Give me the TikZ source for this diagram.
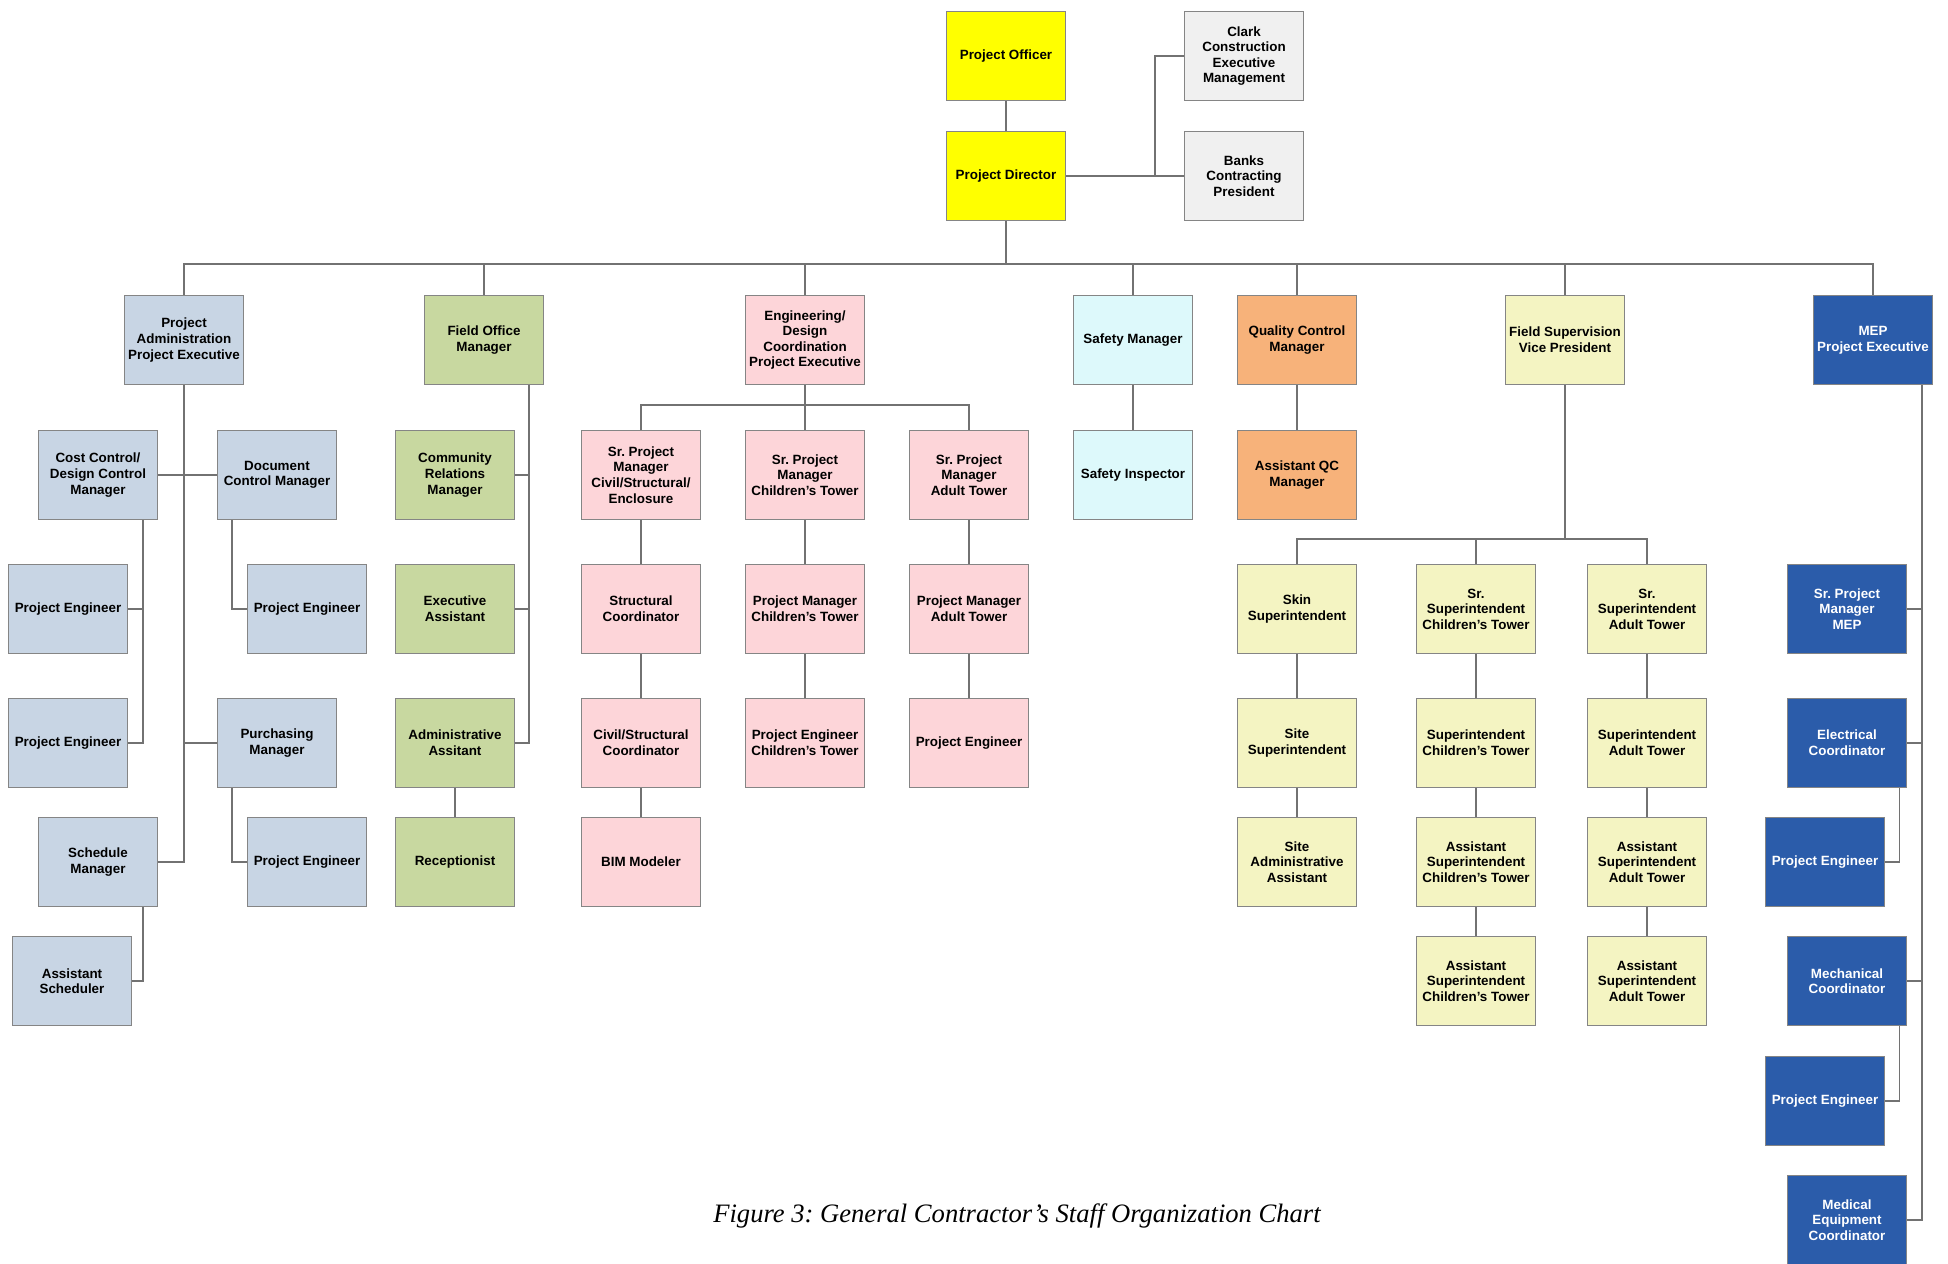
\documentclass[tikz,border=0pt]{standalone}
\usepackage{fontspec}
\setmainfont{Liberation Sans}
\newfontfamily\capfont{Liberation Serif}
\usepackage{tikz}
\frenchspacing

\definecolor{topyel}{HTML}{FFFF00}
\definecolor{extgrey}{HTML}{F0F0F0}
\definecolor{admblue}{HTML}{C8D5E4}
\definecolor{fldgreen}{HTML}{C8D8A0}
\definecolor{engpink}{HTML}{FDD5D9}
\definecolor{safecyan}{HTML}{DDF9FB}
\definecolor{qcorange}{HTML}{F7B27A}
\definecolor{supyel}{HTML}{F4F4C2}
\definecolor{mepblue}{HTML}{2B5CAA}
\definecolor{boxline}{HTML}{858585}
\definecolor{linkgrey}{HTML}{727272}

\begin{document}
\begin{tikzpicture}[x=0.5pt,y=-0.5pt,
  box/.style={draw=boxline,line width=0.7pt,minimum width=59.5pt,minimum height=44.75pt,
    inner sep=1pt,align=center,font=\fontsize{6.7}{7.8}\selectfont\bfseries},
  top/.style={box,fill=topyel},
  ext/.style={box,fill=extgrey},
  adm/.style={box,fill=admblue},
  fld/.style={box,fill=fldgreen},
  eng/.style={box,fill=engpink},
  safe/.style={box,fill=safecyan},
  qual/.style={box,fill=qcorange},
  sup/.style={box,fill=supyel},
  mep/.style={box,fill=mepblue,text=white},
  link/.style={draw=linkgrey,line width=0.9pt}]
  \useasboundingbox[fill=white] (0,0) rectangle (1948,1263);

  \node[top] (off) at (1006,56) {Project Officer};
  \node[top] (dir) at (1006,176) {Project Director};
  \node[ext] (clark) at (1244,56) {Clark\\Construction\\Executive\\Management};
  \node[ext] (banks) at (1244,176) {Banks\\Contracting\\President};

  \node[adm] (admin) at (184,340) {Project\\Administration\\Project Executive};
  \node[fld] (fom) at (484,340) {Field Office\\Manager};
  \node[eng] (engpe) at (805,340) {Engineering/\\Design\\Coordination\\Project Executive};
  \node[safe] (safem) at (1133,340) {Safety Manager};
  \node[qual] (qcm) at (1297,340) {Quality Control\\Manager};
  \node[sup] (fsvp) at (1565,340) {Field Supervision\\Vice President};
  \node[mep] (mepe) at (1873,340) {MEP\\Project Executive};

  \node[adm] (cost) at (98,475) {Cost Control/\\Design Control\\Manager};
  \node[adm] (doc) at (277,475) {Document\\Control Manager};
  \node[adm] (pea) at (68,609) {Project Engineer};
  \node[adm] (peb) at (307,609) {Project Engineer};
  \node[adm] (pec) at (68,743) {Project Engineer};
  \node[adm] (purch) at (277,743) {Purchasing\\Manager};
  \node[adm] (sched) at (98,862) {Schedule\\Manager};
  \node[adm] (ped) at (307,862) {Project Engineer};
  \node[adm] (asched) at (72,981) {Assistant\\Scheduler};

  \node[fld] (crm) at (455,475) {Community\\Relations\\Manager};
  \node[fld] (exa) at (455,609) {Executive\\Assistant};
  \node[fld] (adma) at (455,743) {Administrative\\Assitant};
  \node[fld] (recp) at (455,862) {Receptionist};

  \node[eng] (srcv) at (641,475) {Sr. Project\\Manager\\Civil/Structural/\\Enclosure};
  \node[eng] (srch) at (805,475) {Sr. Project\\Manager\\Children's Tower};
  \node[eng] (srad) at (969,475) {Sr. Project\\Manager\\Adult Tower};
  \node[eng] (stc) at (641,609) {Structural\\Coordinator};
  \node[eng] (pmch) at (805,609) {Project Manager\\Children's Tower};
  \node[eng] (pmad) at (969,609) {Project Manager\\Adult Tower};
  \node[eng] (csc) at (641,743) {Civil/Structural\\Coordinator};
  \node[eng] (pech) at (805,743) {Project Engineer\\Children's Tower};
  \node[eng] (pead) at (969,743) {Project Engineer};
  \node[eng] (bim) at (641,862) {BIM Modeler};

  \node[safe] (sinsp) at (1133,475) {Safety Inspector};
  \node[qual] (aqc) at (1297,475) {Assistant QC\\Manager};

  \node[sup] (skin) at (1297,609) {Skin\\Superintendent};
  \node[sup] (site) at (1297,743) {Site\\Superintendent};
  \node[sup] (sadm) at (1297,862) {Site\\Administrative\\Assistant};
  \node[sup] (ssch) at (1476,609) {Sr.\\Superintendent\\Children's Tower};
  \node[sup] (supch) at (1476,743) {Superintendent\\Children's Tower};
  \node[sup] (asch1) at (1476,862) {Assistant\\Superintendent\\Children's Tower};
  \node[sup] (asch2) at (1476,981) {Assistant\\Superintendent\\Children's Tower};
  \node[sup] (ssad) at (1647,609) {Sr.\\Superintendent\\Adult Tower};
  \node[sup] (supad) at (1647,743) {Superintendent\\Adult Tower};
  \node[sup] (asad1) at (1647,862) {Assistant\\Superintendent\\Adult Tower};
  \node[sup] (asad2) at (1647,981) {Assistant\\Superintendent\\Adult Tower};

  \node[mep] (srmep) at (1847,609) {Sr. Project\\Manager\\MEP};
  \node[mep] (elec) at (1847,743) {Electrical\\Coordinator};
  \node[mep] (mpea) at (1825,862) {Project Engineer};
  \node[mep] (mech) at (1847,981) {Mechanical\\Coordinator};
  \node[mep] (mpeb) at (1825,1101) {Project Engineer};
  \node[mep] (meq) at (1847,1220) {Medical\\Equipment\\Coordinator};

  \node[font=\capfont\itshape\fontsize{13.3}{16}\selectfont] (cap) at (1017,1216)
    {Figure 3: General Contractor’s Staff Organization Chart};

  \coordinate (bus) at (1006,264);
  \coordinate (extv) at (1155,176);
  \coordinate (engbus) at (805,405);
  \coordinate (supbus) at (1565,539);
  \coordinate (costv) at (143,0);
  \coordinate (docv) at (232,0);
  \coordinate (fomv) at (529,0);
  \coordinate (mepv) at (1922,0);
  \coordinate (mepsv) at (1899.5,0);

  \draw[link] (off) -- (dir);
  \draw[link] (dir) -- (banks);
  \draw[link] (clark.west) -| (extv);
  \draw[link] (dir) -- (bus);
  \draw[link] (admin.north) |- (bus) -| (mepe.north);
  \foreach \n in {fom,engpe,safem,qcm,fsvp}
    \draw[link] (\n.north) -- (\n.north |- bus);

  \draw[link] (admin.south) |- (sched.east);
  \draw[link] (cost) -- (doc);
  \draw[link] (purch.west) -- (purch.west -| admin.south);
  \draw[link] (costv |- cost.south) |- (pec.east);
  \draw[link] (pea.east) -- (pea.east -| costv);
  \draw[link] (docv |- doc.south) |- (peb.west);
  \draw[link] (docv |- purch.south) |- (ped.west);
  \draw[link] (costv |- sched.south) |- (asched.east);

  \draw[link] (fomv |- fom.south) |- (adma.east);
  \draw[link] (crm.east) -- (crm.east -| fomv);
  \draw[link] (exa.east) -- (exa.east -| fomv);
  \draw[link] (adma) -- (recp);

  \draw[link] (engpe) -- (srch);
  \draw[link] (srcv.north) |- (engbus) -| (srad.north);
  \draw[link] (srcv) -- (stc) -- (csc) -- (bim);
  \draw[link] (srch) -- (pmch) -- (pech);
  \draw[link] (srad) -- (pmad) -- (pead);

  \draw[link] (safem) -- (sinsp);
  \draw[link] (qcm) -- (aqc);

  \draw[link] (fsvp) -- (supbus);
  \draw[link] (skin.north) |- (supbus) -| (ssad.north);
  \draw[link] (ssch.north) -- (ssch.north |- supbus);
  \draw[link] (skin) -- (site) -- (sadm);
  \draw[link] (ssch) -- (supch) -- (asch1) -- (asch2);
  \draw[link] (ssad) -- (supad) -- (asad1) -- (asad2);

  \draw[link] (mepv |- mepe.south) |- (meq.east);
  \foreach \n in {srmep,elec,mech}
    \draw[link] (\n.east) -- (\n.east -| mepv);
  \draw[link] (mepsv |- elec.south) |- (mpea.east);
  \draw[link] (mepsv |- mech.south) |- (mpeb.east);
\end{tikzpicture}
\end{document}
